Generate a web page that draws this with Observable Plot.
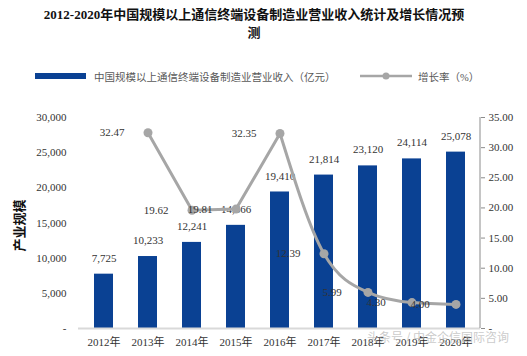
<!DOCTYPE html>
<html><head><meta charset="utf-8">
<script src="https://cdn.jsdelivr.net/npm/d3@7"></script>
<script src="https://cdn.jsdelivr.net/npm/@observablehq/plot@0.6"></script>
<style>
body{margin:0;background:#fff;font-family:"Liberation Serif","Times New Roman","Noto Sans CJK SC",serif;}
#wrap{position:relative;width:527px;height:356px;overflow:hidden;background:#fff;}
#title{position:absolute;left:38px;top:6px;width:432px;text-align:center;font-weight:bold;font-size:13px;line-height:18px;color:#111;}
.leg{position:absolute;top:69px;font-size:10.5px;color:#595959;white-space:nowrap;}
#ytitle{position:absolute;left:-10px;top:216px;width:56px;text-align:center;font-weight:bold;font-size:13px;color:#111;transform:rotate(-90deg);font-family:"Noto Sans CJK SC",sans-serif;}
#chart{position:absolute;left:0;top:100px;}
#wm{position:absolute;left:367px;top:328px;font-size:12px;color:rgba(185,185,185,0.75);font-family:"Noto Sans CJK SC",sans-serif;white-space:nowrap;}
</style></head>
<body>
<div id="wrap">
  <div id="title">2012-2020年中国规模以上通信终端设备制造业营业收入统计及增长情况预测</div>
  <svg class="leg" style="left:35px;top:73px" width="52" height="7"><rect x="0" y="0" width="51" height="6" fill="#0a4193"/></svg>
  <div class="leg" style="left:94px">中国规模以上通信终端设备制造业营业收入（亿元）</div>
  <svg class="leg" style="left:360px;top:71px" width="54" height="10"><line x1="0" y1="5" x2="52" y2="5" stroke="#a6a6a6" stroke-width="2.5"/><circle cx="26" cy="5" r="3.5" fill="#a6a6a6"/></svg>
  <div class="leg" style="left:418px">增长率（%）</div>
  <div id="ytitle">产业规模</div>
  <div id="chart"></div>
  <div id="wm">头条号 / 中金企信国际咨询</div>
</div>
<script>
const years = ["2012年","2013年","2014年","2015年","2016年","2017年","2018年","2019年","2020年"];
const revenue = [7725, 10233, 12241, 14666, 19410, 21814, 23120, 24114, 25078];
const growth = [null, 32.47, 19.62, 19.81, 32.35, 12.39, 5.99, 4.30, 4.00];
const leftTicks = [0, 5000, 10000, 15000, 20000, 25000, 30000];
const rightTicks = [0, 5, 10, 15, 20, 25, 30, 35];

const k = 30000 / 35;
const data = years.map((y, i) => ({year: y, revenue: revenue[i], growth: growth[i], i}));
const lineData = data.filter(d => d.growth != null);
const lineA = lineData.filter(d => d.i <= 4);
const lineB = lineData.filter(d => d.i >= 4);
const fmt = d3.format(",");

const rightLine = (index, scales, values, dims) => {
  const x = dims.width - dims.marginRight;
  const g = document.createElementNS("http://www.w3.org/2000/svg", "line");
  g.setAttribute("x1", x); g.setAttribute("x2", x);
  g.setAttribute("y1", dims.marginTop); g.setAttribute("y2", dims.height - dims.marginBottom);
  g.setAttribute("stroke", "#8c8c8c"); g.setAttribute("stroke-width", "1");
  return g;
};

const chart = Plot.plot({
  width: 527, height: 256,
  marginTop: 17, marginBottom: 28, marginLeft: 78, marginRight: 47,
  style: {fontFamily: '"Liberation Serif","Times New Roman","Noto Sans CJK SC",serif', background: "transparent", color: "#333"},
  x: {domain: years, paddingInner: 0.575, paddingOuter: 0.2875},
  y: {domain: [0, 30000]},
  marks: [
    Plot.barY(data, {x: "year", y: "revenue", fill: "#0a4193"}),
    Plot.ruleY([0], {stroke: "#d9d9d9", strokeWidth: 2}),
    Plot.text(data, {x: "year", y: "revenue", text: d => fmt(d.revenue), dy: -16, fontSize: 11, fill: "#333"}),
    Plot.line(lineA, {x: "year", y: d => d.growth * k, stroke: "#a6a6a6", strokeWidth: 3, strokeLinejoin: "round"}),
    Plot.line(lineB, {x: "year", y: d => d.growth * k, stroke: "#a6a6a6", strokeWidth: 3, curve: "monotone-x"}),
    Plot.dot(lineData, {x: "year", y: d => d.growth * k, r: 4.5, fill: "#a6a6a6"}),
    Plot.text(lineData, {x: "year", y: d => d.growth * k, text: d => d.growth.toFixed(2), dx: -36, fontSize: 11, fill: "#333"}),
    Plot.axisX({tickSize: 0, tickPadding: 10, fontSize: 11, label: null}),
    Plot.axisY(leftTicks, {anchor: "left", tickSize: 0, tickPadding: 12, fontSize: 11, label: null,
      tickFormat: d => d === 0 ? "-" : fmt(d)}),
    Plot.axisY(rightTicks.map(v => v * k), {anchor: "right", tickSize: 4, tickPadding: 4, fontSize: 11, label: null,
      stroke: "#8c8c8c", tickFormat: d => d === 0 ? "-" : (d / k).toFixed(2)}),
    rightLine
  ]
});
document.getElementById("chart").appendChild(chart);
</script>
</body></html>
